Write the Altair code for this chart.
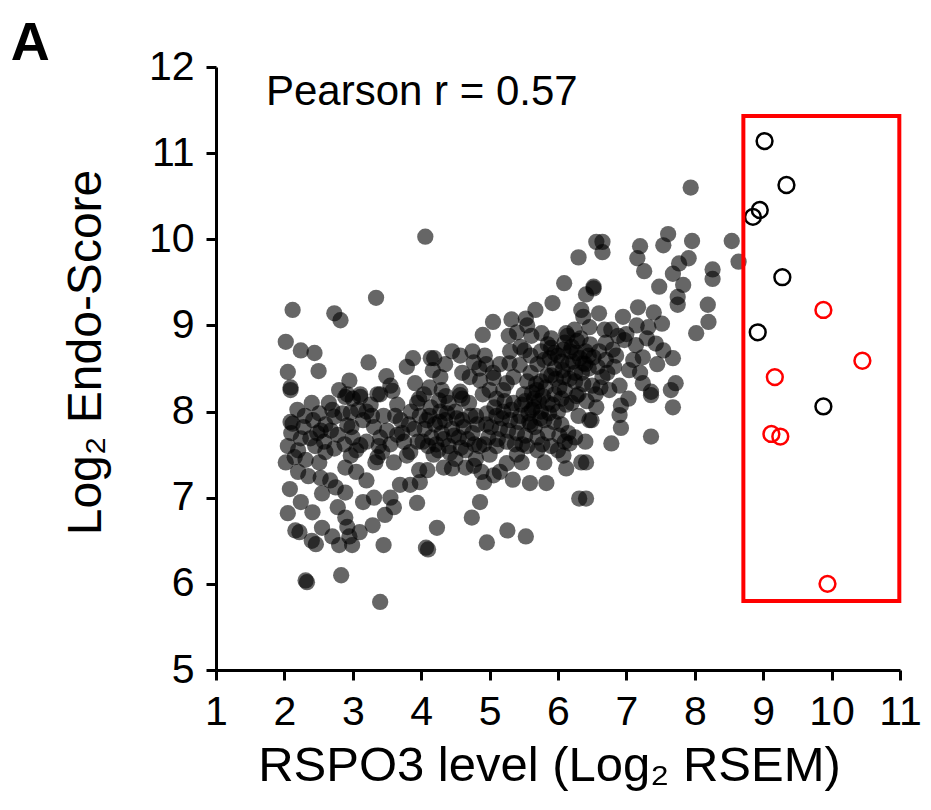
import altair as alt
import pandas as pd

FONT = "Liberation Sans"

# ---- gray (filled) samples: RSPO3 level, Endo-Score ----
gx = [2.12,2.73,2.82,3.34,2.02,2.24,2.44,2.05,2.50,2.09,3.23,2.95,3.49,
      2.09,2.09,2.12,2.19,2.24,2.38,2.51,2.53,2.73,2.85,2.97,2.78,2.92,2.60,2.73,3.11,2.89,3.26,3.31,3.36,3.65,3.50,3.84,3.94,
      2.02,2.15,2.31,2.51,2.89,2.97,3.11,3.33,3.43,3.60,3.40,3.65,3.79,
      2.53,2.67,2.08,2.75,2.89,3.69,3.84,3.98,3.97,
      2.05,2.24,2.41,2.78,2.89,2.92,3.10,3.29,3.31,3.47,3.55,3.60,3.94,
      2.16,2.22,2.46,2.40,2.80,2.99,3.45,4.07,4.10,4.23,
      2.31,2.33,2.83,3.40,
      2.30,2.45,2.60,2.65,2.80,3.00,3.15,3.20,3.40,3.45,3.55,3.70,3.75,3.85,3.90,2.35,2.20,2.55,3.05,3.20,3.15,2.95,2.55,2.70,
      4.06,3.88,3.79,4.14,4.17,3.91,4.12,3.58,2.92,3.11,3.36,3.97,
      4.57,4.77,4.93,4.19,4.28,4.71,4.86,5.06,5.25,4.57,5.00,4.57,4.26,
      4.74,4.86,4.96,5.26,5.53,6.31,
      4.92,5.06,4.77,4.45,4.33,4.09,
      4.10,4.15,4.20,4.12,4.25,4.30,4.35,4.05,4.18,4.28,
      4.40,4.45,4.50,4.55,4.60,4.65,4.70,4.75,4.80,4.85,4.90,4.95,4.40,4.50,4.65,4.80,4.88,5.00,4.98,4.60,
      5.05,5.32,5.53,5.67,5.92,4.90,5.28,5.61,5.76,5.90,5.90,5.51,5.29,5.44,5.69,5.90,6.08,
      5.34,5.59,5.83,5.47,5.80,
      5.10,5.15,5.20,5.10,5.25,5.30,5.35,5.40,5.45,5.50,5.55,5.60,5.65,5.70,5.75,5.80,5.85,5.55,5.60,5.70,5.80,5.95,6.00,6.05,6.10,6.15,6.20,6.25,6.30,6.35,6.40,6.20,6.00,5.95,5.65,5.75,5.85,5.70,5.40,5.25,5.15,5.60,5.35,5.20,5.10,6.05,6.15,6.30,6.45,6.50,5.90,6.00,6.10,6.25,6.40,
      6.30,6.56,6.09,6.41,6.52,6.12,6.24,6.37,6.34,6.46,6.27,6.37,6.52,
      6.65,6.65,6.52,6.60,6.95,6.78,6.97,7.14,6.82,7.04,6.92,6.90,6.92,6.78,7.03,6.49,6.56,6.41,6.41,6.12,6.08,6.34,6.17,6.46,
      6.60,6.70,6.65,6.75,6.85,6.55,6.70,6.90,
      7.94,8.54,8.64,7.20,7.16,7.26,7.61,7.54,7.96,7.91,7.77,7.68,8.26,8.26,7.83,7.48,7.75,7.75,8.19,8.20,8.02,7.17,7.40,7.52,7.32,7.43,7.54,7.68,7.24,7.24,7.36,7.72,7.65,7.36,7.68,7.36,
      7.10,7.30,7.20,7.45,7.00,7.15,
      4.35,4.45,4.30,4.60,4.85,
      4.02,4.08,4.14,4.22,4.27,4.33,4.38,4.42,4.48,4.52,4.58,4.62,4.68,4.72,4.78,4.82,4.92,4.96,4.04,4.36,
      5.02,5.07,5.12,5.18,5.22,5.27,5.32,5.37,5.42,5.47,5.52,5.57,5.62,5.66,5.72,5.77,5.82,5.87,5.92,5.97,
      6.02,6.07,6.12,6.17,6.22,6.27,6.32,6.37,6.42,6.47,5.62,5.68,5.74,5.78,5.84,5.58,5.52,5.48,5.88,5.94,
      6.02,6.08,6.14,6.28,6.58,6.62,6.68,6.72,6.80,6.88,5.30,5.45,5.15,5.05,4.95,4.75,5.55,5.40,
      2.05,2.10,2.20,2.28,2.42,2.48,2.58,2.68,2.70,2.88,2.98,3.05,3.08,3.20,3.28,3.38,3.55,3.62,3.72,3.82,3.95,3.98,2.40,3.00,
      5.85,5.95,6.05,6.18,6.25,6.33,6.40,6.10,5.75,6.45]
gy = [9.18,9.14,9.06,9.32,8.81,8.71,8.68,8.46,8.47,8.28,8.57,8.36,8.41,
      8.25,7.88,7.86,8.02,7.69,7.69,7.98,7.78,7.94,7.98,7.99,7.73,7.84,7.53,7.57,8.17,8.17,8.08,7.82,7.47,8.08,7.78,7.53,8.10,
      7.41,7.47,7.44,7.41,7.35,7.49,7.61,7.41,7.53,7.41,7.70,7.73,7.49,
      7.23,7.20,7.10,7.12,7.06,7.15,7.15,7.18,7.32,
      6.82,6.95,6.83,6.89,6.77,6.66,6.60,6.68,7.00,6.80,7.00,6.89,6.94,
      6.62,6.60,6.46,6.50,6.45,6.45,6.45,6.42,6.40,6.65,
      6.04,6.02,6.10,5.79,
      7.95,7.60,7.85,8.10,8.25,7.70,7.90,8.00,8.20,7.95,8.30,7.90,7.65,8.00,7.80,7.25,7.30,7.05,7.30,7.20,6.95,6.55,6.65,6.55,
      10.03,8.62,8.52,8.62,8.48,8.33,8.28,8.24,8.20,8.20,8.20,8.15,
      8.65,8.57,8.65,8.62,8.40,8.40,8.36,8.39,8.33,8.23,8.25,8.19,8.13,
      6.77,6.95,6.48,6.62,6.55,6.99,
      7.18,7.26,7.37,7.34,7.35,7.32,
      7.60,7.70,7.85,7.95,7.55,7.75,7.90,7.80,7.50,8.00,
      7.60,7.80,8.00,7.70,7.90,7.55,8.10,7.75,7.95,7.60,8.20,7.85,8.10,7.45,7.35,7.45,7.30,7.50,7.70,8.15,
      9.04,9.07,9.08,9.18,9.26,8.89,8.88,8.88,8.91,8.74,8.85,8.71,8.56,8.54,8.25,8.42,8.40,
      7.21,7.17,7.17,7.41,7.41,
      7.60,7.80,8.00,8.15,7.65,7.90,8.10,7.75,7.95,8.20,7.60,7.85,8.05,7.70,8.35,7.90,8.10,8.35,8.45,8.55,8.60,8.20,8.00,7.85,8.25,8.55,8.10,8.35,7.95,8.45,8.70,8.75,8.65,8.50,8.15,8.00,7.75,7.55,7.50,7.40,7.30,8.65,8.40,8.25,7.95,8.15,7.75,8.20,8.50,8.30,7.60,7.55,7.65,7.70,7.65,
      9.79,9.97,9.49,9.36,9.45,8.91,8.95,9.10,9.18,8.98,8.68,8.56,8.63,
      9.97,9.85,9.43,9.14,9.10,8.95,8.83,8.77,8.52,8.48,8.07,7.96,7.81,7.63,8.15,7.90,8.05,7.41,6.99,7.34,7.49,7.41,7.63,7.90,
      8.70,8.80,8.40,8.25,8.65,8.20,8.60,8.30,
      10.60,9.98,9.74,9.92,9.78,9.63,10.06,9.93,9.98,9.78,9.72,9.60,9.65,9.54,9.47,9.45,9.33,9.24,9.24,9.04,8.91,9.21,9.15,9.02,8.98,8.79,8.71,8.62,8.63,8.33,8.23,8.33,8.25,8.19,8.05,7.71,
      8.60,8.85,8.45,8.55,8.90,9.00,
      8.55,8.70,8.25,8.45,8.50,
      7.65,7.90,8.05,7.62,7.88,7.68,7.98,7.52,7.72,7.92,7.58,7.82,7.68,7.95,7.62,7.85,7.62,7.98,8.20,8.18,
      7.82,8.05,7.68,7.92,8.12,7.78,8.02,7.62,7.88,8.08,7.72,7.98,8.22,7.82,8.12,7.62,8.28,7.98,8.08,8.38,
      8.28,8.48,8.08,8.38,8.58,8.18,8.62,8.32,8.12,8.78,8.02,8.32,7.92,8.18,8.42,7.88,8.12,7.62,8.62,7.88,
      7.72,8.72,8.88,8.82,8.52,8.28,8.95,8.45,8.72,8.88,8.70,8.75,8.55,8.45,8.55,8.70,9.00,8.92,
      7.60,7.75,7.55,7.82,7.90,7.75,7.65,7.78,8.02,7.62,7.82,7.55,8.02,7.65,7.95,7.60,7.62,7.95,7.75,7.85,7.65,7.95,8.10,8.15,
      8.78,8.68,8.58,8.70,8.45,8.85,8.55,8.80,8.70,8.65]

# ---- highlighted samples (open circles) ----
bx = [9.02, 9.34, 8.95, 8.85, 9.28, 8.92, 9.88]
by = [11.14, 10.63, 10.34, 10.26, 9.56, 8.92, 8.06]
rx = [9.88, 10.45, 9.17, 9.12, 9.25, 9.94]
ry = [9.18, 8.59, 8.40, 7.74, 7.71, 6.00]

# ---- red frame around the high-RSPO3 group ----
box_x = [8.71]; box_x2 = [10.99]; box_y = [11.43]; box_y2 = [5.80]

x_ticks = list(range(1, 12))
y_ticks = list(range(5, 13))

n = min(len(gx), len(gy))
gray = pd.DataFrame({"x": gx[:n], "y": gy[:n]})
blk = pd.DataFrame({"x": bx, "y": by})
red = pd.DataFrame({"x": rx, "y": ry})
box = pd.DataFrame({"x": box_x, "x2": box_x2, "y": box_y, "y2": box_y2})
ann = pd.DataFrame({"x": [1.73], "y": [11.71], "t": ["Pearson r = 0.57"]})
panel = pd.DataFrame({"x": [-2.0], "y": [12.08], "t": ["A"]})

xs = alt.Scale(domain=[1, 11], nice=False, zero=False)
ys = alt.Scale(domain=[5, 12], nice=False, zero=False)

xax = alt.Axis(values=x_ticks, title="RSPO3 level (Log₂ RSEM)", labelFlush=False,
               labelOverlap=False, labelPadding=12, titlePadding=9, titleFontSize=49,
               titleX=333, format="d")
yax = alt.Axis(values=y_ticks, title="Log₂ Endo-Score", labelOverlap=False,
               labelPadding=12, titlePadding=38, titleFontSize=48, titleY=285, format="d")

X = alt.X("x:Q", scale=xs, axis=xax)
Y = alt.Y("y:Q", scale=ys, axis=yax)

pts = alt.Chart(gray).mark_circle(size=265, color="black", opacity=0.6).encode(x=X, y=Y)
bl = alt.Chart(blk).mark_point(shape="circle", size=250, filled=False, color="black",
                               strokeWidth=2.5, opacity=1).encode(x=X, y=Y)
rd = alt.Chart(red).mark_point(shape="circle", size=250, filled=False, color="#ff0000",
                               strokeWidth=2.5, opacity=1).encode(x=X, y=Y)
frame = alt.Chart(box).mark_rect(fillOpacity=0, stroke="#ff0000", strokeWidth=4).encode(
    x=X, x2="x2:Q", y=Y, y2="y2:Q")
txt = alt.Chart(ann).mark_text(align="left", baseline="middle", fontSize=42, font=FONT,
                               color="black").encode(x=X, y=Y, text="t:N")
lab = alt.Chart(panel).mark_text(align="left", baseline="alphabetic", fontSize=54, font=FONT,
                                 fontWeight="bold", color="black").encode(x=X, y=Y, text="t:N")

chart = alt.layer(pts, bl, rd, frame, txt, lab).properties(
    width=684, height=603,
    autosize=alt.AutoSizeParams(type="none"),
    padding={"left": 208, "top": 59, "right": 23, "bottom": 130},
).configure_view(stroke=None).configure_axis(
    grid=False, domainColor="black", domainWidth=3, tickColor="black", tickWidth=3,
    tickSize=10, labelFont=FONT, titleFont=FONT, labelFontSize=41, titleFontSize=47,
    labelColor="black", titleColor="black", titleFontWeight="normal",
)

chart.save("out.html", embed_options={"renderer": "svg", "actions": False})
